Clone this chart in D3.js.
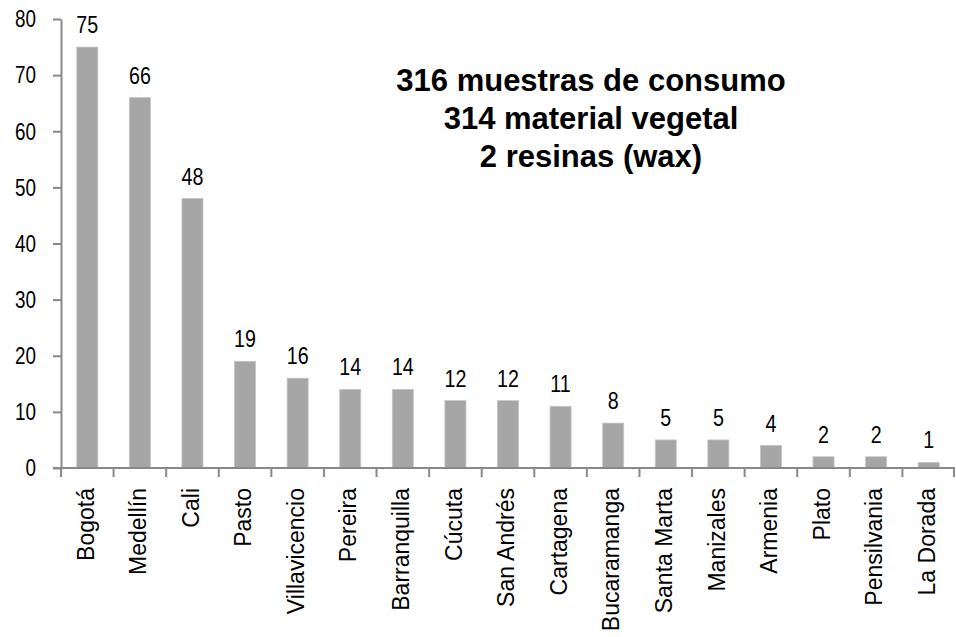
<!DOCTYPE html>
<html>
<head>
<meta charset="utf-8">
<script src="https://cdn.jsdelivr.net/npm/d3@7"></script>
<style>
  body { margin: 0; background: #fff; }
  svg { display: block; font-family: "Liberation Sans", Arial, sans-serif; }
</style>
</head>
<body>
<svg id="chart" width="956" height="637"></svg>
<script>
// data
var ciudades = ["Bogotá", "Medellín", "Cali", "Pasto", "Villavicencio", "Pereira", "Barranquilla",
  "Cúcuta", "San Andrés", "Cartagena", "Bucaramanga", "Santa Marta", "Manizales", "Armenia",
  "Plato", "Pensilvania", "La Dorada"];
var muestras = [75, 66, 48, 19, 16, 14, 14, 12, 12, 11, 8, 5, 5, 4, 2, 2, 1];
var yTicks = [0, 10, 20, 30, 40, 50, 60, 70, 80];
var nota = ["316 muestras de consumo", "314 material vegetal", "2 resinas (wax)"];

var svg = d3.select("#chart"),
  margin = { top: 19, right: 1, bottom: 169, left: 61 },
  width = 956 - margin.left - margin.right,
  height = 637 - margin.top - margin.bottom;

var g = svg.append("g").attr("transform", "translate(" + margin.left + "," + margin.top + ")");

var x = d3.scaleBand().domain(ciudades).range([0, width]).paddingInner(0.6).paddingOuter(0.3);
var y = d3.scaleLinear().domain([0, 80]).range([height, 0]);

var axisColor = "#898989";
var narrow = 0.82; // no Arial Narrow here, squeeze the regular face

// bars
g.selectAll("rect.bar")
  .data(muestras)
  .enter().append("rect")
  .attr("class", "bar")
  .attr("x", function(d, i) { return x(ciudades[i]); })
  .attr("y", function(d) { return y(d); })
  .attr("width", x.bandwidth())
  .attr("height", function(d) { return height - y(d); })
  .attr("fill", "#a6a6a6")
  .attr("stroke", "#c4c4c4")
  .attr("stroke-width", 0.8);

// value labels
g.selectAll("text.val")
  .data(muestras)
  .enter().append("text")
  .attr("class", "val")
  .attr("transform", function(d, i) {
    return "translate(" + (x(ciudades[i]) + x.bandwidth() / 2) + "," + (y(d) - 14) + ") scale(" + narrow + ",1)";
  })
  .attr("text-anchor", "middle")
  .attr("font-size", 24)
  .attr("fill", "#000")
  .text(function(d) { return d; });

// y axis
var yAxis = g.append("g")
  .call(d3.axisLeft(y).tickValues(yTicks).tickSize(8).tickPadding(17).tickSizeOuter(0));
yAxis.attr("font-family", null).attr("font-size", null);
yAxis.select(".domain").attr("stroke", axisColor).attr("stroke-width", 2);
yAxis.selectAll(".tick line").attr("stroke", axisColor).attr("stroke-width", 2);
yAxis.selectAll(".tick text")
  .attr("x", 0)
  .attr("transform", "translate(-25,0) scale(" + narrow + ",1)")
  .attr("font-size", 23)
  .attr("fill", "#000")
  .attr("dy", "0.34em");

// x axis: line + ticks at band edges
var xAxis = g.append("g").attr("transform", "translate(0," + height + ")");
xAxis.append("line")
  .attr("x1", -8).attr("x2", width)
  .attr("stroke", axisColor).attr("stroke-width", 2);
var step = x.step();
var edges = ciudades.map(function(c) { return x(c) - step * 0.3; }).concat([width - 1]);
xAxis.selectAll("line.tk")
  .data(edges)
  .enter().append("line")
  .attr("class", "tk")
  .attr("x1", function(d) { return d; }).attr("x2", function(d) { return d; })
  .attr("y1", 0).attr("y2", 9)
  .attr("stroke", axisColor).attr("stroke-width", 2);

xAxis.selectAll("text.cat")
  .data(ciudades)
  .enter().append("text")
  .attr("class", "cat")
  .attr("transform", function(d) { return "translate(" + (x(d) + x.bandwidth() / 2) + ",20) rotate(-90)"; })
  .attr("dy", "0.27em")
  .attr("text-anchor", "end")
  .attr("font-size", 23)
  .attr("fill", "#000")
  .text(function(d) { return d; });

// note
svg.append("g").selectAll("text")
  .data(nota)
  .enter().append("text")
  .attr("x", 591)
  .attr("y", function(d, i) { return 91 + i * 38; })
  .attr("text-anchor", "middle")
  .attr("font-weight", "bold")
  .attr("font-size", 31)
  .attr("fill", "#000")
  .text(function(d) { return d; });
</script>
</body>
</html>
